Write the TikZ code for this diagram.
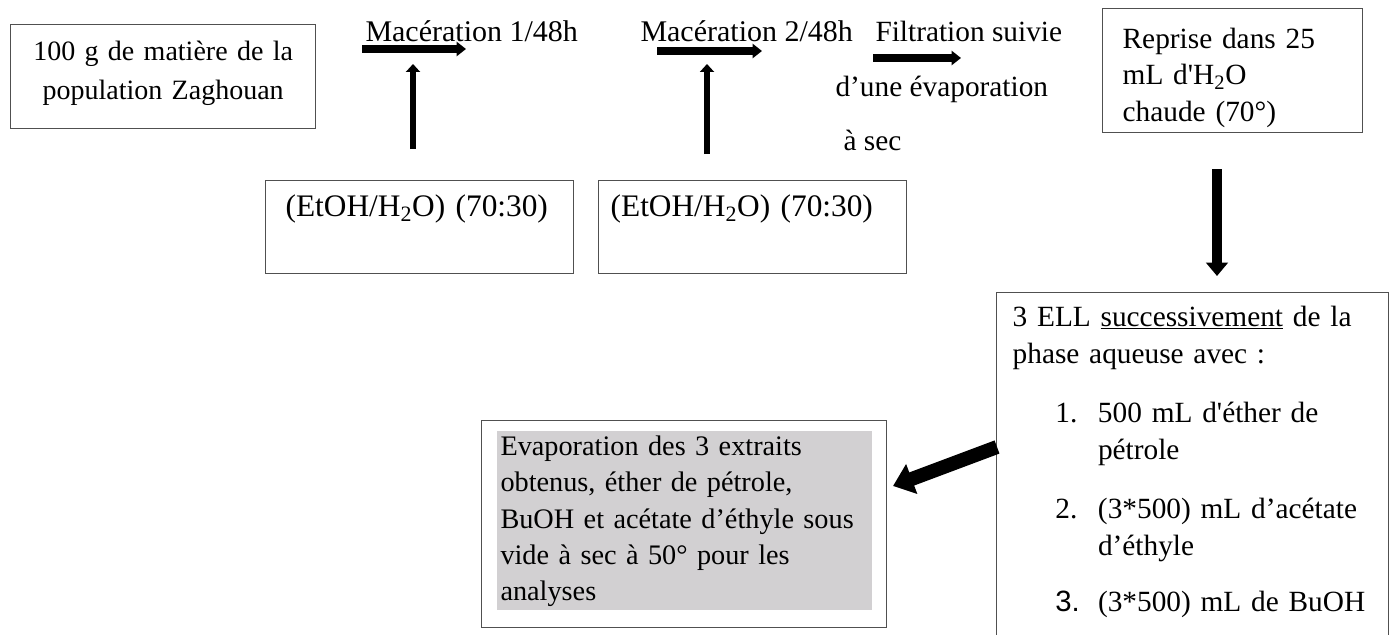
\documentclass[tikz,border=0pt]{standalone}
\usepackage{fontspec}
\setmainfont{Liberation Serif}
\setsansfont{Liberation Sans}
\usetikzlibrary{arrows.meta}

\tikzset{every picture/.style={line width=0.75pt}}
\tikzset{
	frame/.style={draw={rgb, 255:red, 80; green, 80; blue, 80 }, line width=1pt, inner sep=0pt},
	label/.style={anchor=base west, inner sep=0pt},
	fatright/.style={-{Triangle[length=7pt,width=10.5pt]}, line width=5.5pt},
	fatup/.style={-{Triangle[length=6pt,width=10.5pt]}, line width=5pt},
	fatdown/.style={-{Triangle[length=10pt,width=16pt]}, line width=8pt},
	fatdiag/.style={-{Triangle[length=15pt,width=23pt]}, line width=10.5pt},
}
\newcommand{\listnum}[1]{\hspace*{32pt}\makebox[32pt][l]{#1}}
\newcommand{\listcont}{\hspace*{64pt}}

\begin{document}
\begin{tikzpicture}[x=0.75pt,y=0.75pt,yscale=-1,xscale=1, font={\fontsize{22}{27.5}\selectfont}]
	\clip (0,0) rectangle (1396,635);

	%Shape: Rectangle
	\node[frame, anchor=north west, text width=208.75pt, inner xsep=10pt, text height=27pt, text depth=51pt, align=center, font={\fontsize{21}{29}\selectfont}] (matiere) at (10,24) {100 g de matière de la\\population Zaghouan};

	%Text
	\node[label, font={\fontsize{22.5}{27.5}\selectfont}] (mac1) at (365,42) {Macération 1/48h};
	\node[label, font={\fontsize{22.5}{27.5}\selectfont}] (mac2) at (640,42) {Macération 2/48h};
	\node[label] (filtr) at (875,42) {Filtration suivie};
	\node[label] (evapa) at (835,97) {d’une évaporation};
	\node[label] (asec) at (843,150) {à sec};

	%Shape: Rectangle
	\node[frame, anchor=north west, text width=165pt, inner xsep=15pt, text height=29.75pt, text depth=63.25pt, align=left] (reprise) at (1102,8) {Reprise dans 25\\mL d\textquotesingle H\textsubscript{2}O\\chaude (70°)};

	%Shape: Rectangle
	\node[frame, anchor=north west, text width=201pt, inner xsep=15pt, text height=27pt, text depth=42.75pt, align=left, font={\fontsize{23.5}{28}\selectfont}] (solv1) at (265,180) {(EtOH/H\textsubscript{2}O) (70:30)};
	\node[frame, anchor=north west, text width=213pt, inner xsep=9pt, text height=27pt, text depth=42.75pt, align=left, font={\fontsize{23.5}{28}\selectfont}] (solv2) at (598,180) {(EtOH/H\textsubscript{2}O) (70:30)};

	%Shape: Rectangle
	\node[frame, anchor=north west, text width=270pt, inner xsep=12pt, text height=25pt, text depth=300pt, align=left, font={\fontsize{22}{28}\selectfont}] (ell) at (996,292) {3 ELL \underline{successivement} de la\\
		phase aqueuse avec :\\[16pt]
		\listnum{1.}500 mL d\textquotesingle éther de\\
		\listcont pétrole\\[16pt]
		\listnum{2.}(3*500) mL d’acétate\\
		\listcont d’éthyle\\[14pt]
		\listnum{\sffamily 3.}(3*500) mL de BuOH};

	%Shape: Rectangle
	\node[frame, anchor=north west, minimum width=303.75pt, minimum height=155.25pt] (evapbox) at (481,420) {};
	\node[fill={rgb, 255:red, 210; green, 208; blue, 210 }, anchor=north west, inner xsep=3pt, inner ysep=0pt, text width=275.25pt, text height=18.75pt, text depth=115.5pt, align=left, font={\fontsize{21.2}{27.2}\selectfont}] (evap) at (496,430) {Evaporation des 3 extraits\\
		obtenus, éther de pétrole,\\
		BuOH et acétate d’éthyle sous\\
		vide à sec à 50° pour les\\
		analyses};

	%Straight Lines
	\coordinate (m1a) at (362,49);
	\coordinate (m1b) at (466,49);
	\coordinate (s1a) at (413,149);
	\coordinate (s1b) at (413,64);
	\coordinate (m2a) at (657,51);
	\coordinate (m2b) at (762,51);
	\coordinate (s2a) at (707,154);
	\coordinate (s2b) at (707,64);
	\coordinate (fa) at (873,58);
	\coordinate (fb) at (961,58);
	\coordinate (ra) at (1217,169);
	\coordinate (rb) at (1217,276);
	\coordinate (ea) at (997,447);
	\coordinate (eb) at (893,486);
	\draw[fatright] (m1a) -- (m1b);
	\draw[fatup] (s1a) -- (s1b);
	\draw[fatright] (m2a) -- (m2b);
	\draw[fatup] (s2a) -- (s2b);
	\draw[fatright] (fa) -- (fb);
	\draw[fatdown] (ra) -- (rb);
	\draw[fatdiag] (ea) -- (eb);
\end{tikzpicture}
\end{document}
